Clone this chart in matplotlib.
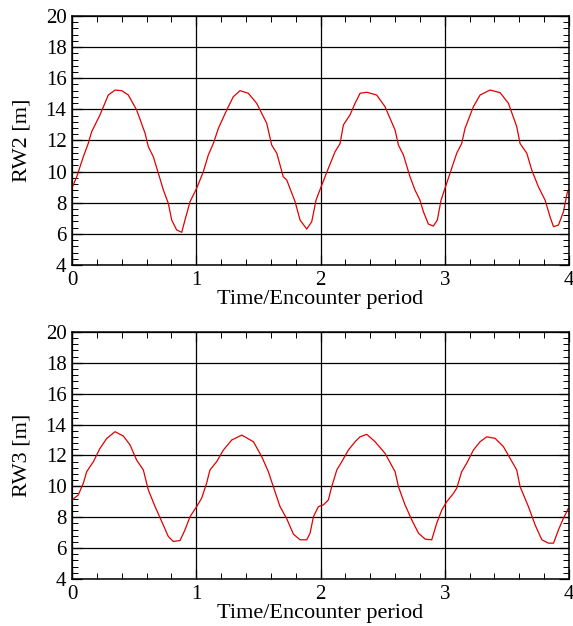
import matplotlib
matplotlib.use("Agg")
import matplotlib.pyplot as plt
from matplotlib.ticker import MultipleLocator

plt.rcParams['font.family'] = ['Liberation Serif', 'DejaVu Serif']

# RW2 time history (time / encounter period, height [m])
rw2_t = [0.0, 0.038, 0.091, 0.13, 0.158, 0.225, 0.292, 0.346, 0.4, 0.453, 0.52,
         0.588, 0.614, 0.654, 0.695, 0.735, 0.775, 0.802, 0.842, 0.883, 0.909,
         0.95, 1.003, 1.057, 1.097, 1.137, 1.178, 1.245, 1.298, 1.352, 1.419,
         1.486, 1.567, 1.607, 1.648, 1.7, 1.728, 1.795, 1.835, 1.889, 1.929,
         1.964, 2.0, 2.063, 2.117, 2.157, 2.184, 2.237, 2.278, 2.318, 2.372,
         2.452, 2.519, 2.6, 2.627, 2.667, 2.72, 2.76, 2.8, 2.828, 2.868, 2.908,
         2.94, 2.97, 2.997, 3.042, 3.096, 3.136, 3.163, 3.23, 3.284, 3.364,
         3.445, 3.512, 3.579, 3.606, 3.66, 3.7, 3.753, 3.807, 3.847, 3.875,
         3.915, 3.955, 3.987, 4.0]
rw2_h = [8.95, 9.67, 10.96, 11.8, 12.56, 13.64, 14.92, 15.24, 15.2, 14.92, 13.96,
         12.46, 11.6, 10.96, 9.89, 8.82, 7.96, 6.89, 6.25, 6.1, 6.89,
         8.07, 8.93, 10.0, 11.07, 11.8, 12.78, 13.96, 14.81, 15.2, 15.03,
         14.39, 13.1, 11.7, 11.18, 9.67, 9.46, 8.07, 6.89, 6.31, 6.78,
         8.17, 8.93, 10.21, 11.28, 11.8, 13.0, 13.64, 14.39, 15.03, 15.1,
         14.92, 14.17, 12.67, 11.7, 11.07, 9.67, 8.82, 8.17, 7.42, 6.63, 6.5,
         6.89, 8.17, 8.82, 9.89, 11.18, 11.8, 12.78, 14.17, 14.92, 15.24,
         15.07, 14.39, 12.89, 11.8, 11.18, 10.1, 9.03, 8.17, 7.1, 6.46,
         6.57, 7.42, 8.7, 8.85]

# RW3 time history
rw3_t = [0.0, 0.05, 0.091, 0.118, 0.172, 0.225, 0.279, 0.346, 0.413, 0.467, 0.52,
         0.574, 0.614, 0.668, 0.722, 0.775, 0.815, 0.869, 0.909, 0.95, 1.003,
         1.043, 1.083, 1.11, 1.164, 1.218, 1.285, 1.366, 1.46, 1.527, 1.58,
         1.62, 1.674, 1.728, 1.782, 1.835, 1.889, 1.916, 1.943, 1.983, 2.023,
         2.063, 2.09, 2.131, 2.171, 2.224, 2.278, 2.318, 2.372, 2.439, 2.519,
         2.6, 2.627, 2.68, 2.734, 2.788, 2.842, 2.895, 2.935, 2.976, 3.016,
         3.07, 3.096, 3.136, 3.176, 3.23, 3.284, 3.338, 3.405, 3.472, 3.579,
         3.606, 3.673, 3.727, 3.781, 3.834, 3.875, 3.915, 3.955, 3.995]
rw3_h = [9.12, 9.44, 10.2, 10.95, 11.6, 12.46, 13.1, 13.54, 13.26, 12.68, 11.7,
         11.06, 9.77, 8.69, 7.72, 6.75, 6.43, 6.49, 7.18, 8.04, 8.69,
         9.23, 10.2, 11.06, 11.6, 12.35, 13.0, 13.32, 12.89, 11.92, 10.95,
         9.98, 8.69, 7.9, 6.9, 6.54, 6.54, 6.97, 8.04, 8.69, 8.8,
         9.12, 9.98, 11.06, 11.6, 12.35, 12.89, 13.21, 13.37, 12.89, 12.14,
         10.95, 9.98, 8.8, 7.83, 6.97, 6.58, 6.54, 7.61, 8.47, 9.01,
         9.55, 9.88, 10.95, 11.49, 12.35, 12.89, 13.21, 13.11, 12.57, 11.06,
         9.98, 8.69, 7.5, 6.54, 6.32, 6.32, 7.18, 7.94, 8.58]

panels = [(rw2_t, rw2_h, "RW2 [m]"), (rw3_t, rw3_h, "RW3 [m]")]
rects = [[0.1257, 0.5767, 0.8674, 0.3978], [0.1257, 0.0751, 0.8674, 0.3946]]

fig = plt.figure(figsize=(5.73, 6.26), dpi=100)

for (t, h, label), rect in zip(panels, rects):
    ax = fig.add_axes(rect)
    ax.plot(t, h, color="#e00000", lw=0.9)
    ax.set_xlim(0, 4)
    ax.set_ylim(4, 20)
    ax.xaxis.set_major_locator(MultipleLocator(1))
    ax.xaxis.set_minor_locator(MultipleLocator(0.2))
    ax.yaxis.set_major_locator(MultipleLocator(2))
    ax.yaxis.set_minor_locator(MultipleLocator(0.4))
    ax.grid(True, which="major", color="black", lw=0.9)
    ax.tick_params(which="both", direction="in", top=True, right=True,
                   labelsize=15, colors="black")
    ax.tick_params(which="major", length=7, width=0.9, pad=4)
    ax.tick_params(which="minor", length=4, width=0.7)
    for s in ax.spines.values():
        s.set_linewidth(1.1)
    ax.set_xlabel("Time/Encounter period", fontsize=16, labelpad=0)
    ax.set_ylabel(label, fontsize=16, labelpad=10)

fig.savefig("out.png", dpi=100)
